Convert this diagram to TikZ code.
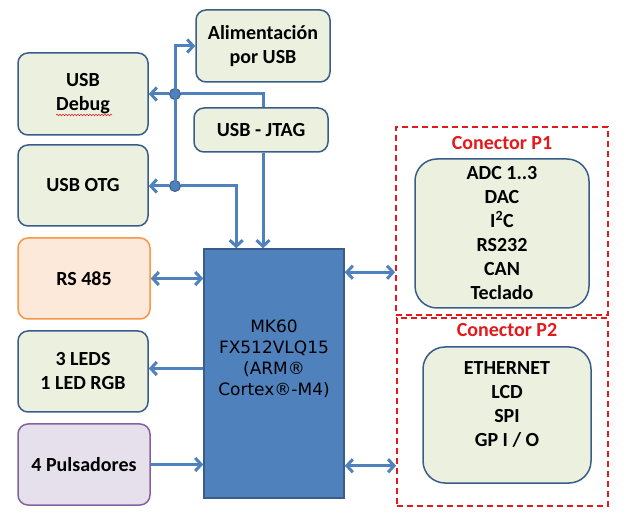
\documentclass[tikz,border=0pt]{standalone}
\usepackage{fontspec}
\setmainfont{Carlito}
\newfontfamily\dvfont{DejaVu Sans}
\usetikzlibrary{arrows.meta,calc,decorations.pathmorphing}
\definecolor{lineblue}{HTML}{4F81BD}
\definecolor{edgeblue}{HTML}{385D8A}
\definecolor{greenfill}{HTML}{EBF1DE}
\definecolor{orangefill}{HTML}{FDE9D9}
\definecolor{orangeedge}{HTML}{F79646}
\definecolor{purplefill}{HTML}{E5E0EC}
\definecolor{purpleedge}{HTML}{8064A2}
\definecolor{conred}{HTML}{E3191C}
\tikzset{
  bx/.style={draw=edgeblue, line width=1.5pt, fill=greenfill, rounded corners=10pt,
    align=center, inner sep=0pt, font=\fontsize{20}{24}\selectfont\bfseries},
  conbox/.style={bx, rounded corners=22pt},
  dashbox/.style={draw=conred, line width=1.8pt, dash pattern=on 6pt off 4pt, inner sep=0pt},
  conlabel/.style={text=conred, font=\fontsize{20}{24}\selectfont\bfseries, inner sep=0pt},
  wire/.style={draw=lineblue, line width=3pt},
  arr/.style={wire, -{Straight Barb[length=6pt,width=13pt]}},
  darr/.style={wire, {Straight Barb[length=6pt,width=13pt]}-{Straight Barb[length=6pt,width=13pt]}},
  jdot/.style={circle, fill=lineblue, draw=edgeblue, line width=1pt, minimum size=11pt, inner sep=0pt},
}
\begin{document}
\begin{tikzpicture}[x=1pt,y=-1pt]
\useasboundingbox (0,0) rectangle (632,526);
% left column
\node[bx, minimum width=130, minimum height=82] (dbg) at (83,94) {USB\\Debug};
\node[bx, minimum width=130, minimum height=81] (otg) at (83,185.5) {USB OTG};
\node[bx, minimum width=134, minimum height=72] (al) at (263,46) {Alimentación\\por USB};
\node[bx, minimum width=134, minimum height=44] (jt) at (261,130) {USB - JTAG};
\node[bx, draw=orangeedge, fill=orangefill, minimum width=132, minimum height=81] (rs) at (84,278.5) {RS 485};
\node[bx, minimum width=130, minimum height=81] (led) at (83,371.5) {3 LEDS\\1 LED RGB};
\node[bx, draw=purpleedge, fill=purplefill, minimum width=132, minimum height=81] (pul) at (84,464.5) {4 Pulsadores};
% MCU
\node[draw=edgeblue, line width=1.5pt, fill=lineblue, minimum width=140, minimum height=249, inner sep=0pt] (mk) at (274,373.5) {};
\node[align=center, font=\dvfont\fontsize{17}{21}\selectfont, inner sep=0pt] (mkt) at ([yshift=15pt]mk.center) {MK60\\FX512VLQ15\\(ARM®\\Cortex®-M4)};
% connectors
\node[dashbox, minimum width=212, minimum height=188] (p1) at (502,221) {};
\node[dashbox, minimum width=211, minimum height=188] (p2) at (502.5,412) {};
\node[conlabel] (p1l) at (502,143) {Conector P1};
\node[conlabel] (p2l) at (507,330) {Conector P2};
\node[conbox, minimum width=174, minimum height=149] (p1b) at (502,233.5) {ADC 1..3\\DAC\\I\textsuperscript{2}C\\RS232\\CAN\\Teclado};
\node[conbox, minimum width=168, minimum height=136, text depth=22pt] (p2b) at (507,415) {ETHERNET\\LCD\\SPI\\GP I / O};
% wavy spell-check underline
\draw[conred, line width=0.6pt, decorate, decoration={snake, amplitude=0.7pt, segment length=3pt}]
  ($(dbg.center)+(-27,21)$) -- ($(dbg.center)+(29,21)$);
% junction dots
\node[jdot] (d1) at (175,94) {};
\node[jdot] (d2) at (175,186) {};
% wires
\draw[arr] (d2.center) -- (d1.center) |- (al.west);
\draw[arr] (d1) -- (d1 -| dbg.east);
\draw[arr] (d2) -- (d2 -| otg.east);
\draw[wire] (d1) -| ([xshift=2pt]jt.north);
\draw[arr] ([xshift=2pt]jt.south) -- ([xshift=2pt]jt.south |- mk.north);
\draw[arr] (d2) -| ($(mk.north west)+(33,0)$);
\draw[darr] (rs.east) -- (rs.east -| mk.west);
\draw[arr] ($(mk.west)+(0,-5)$) -- ($(mk.west -| led.east)+(0,-5)$);
\draw[arr] (pul.east) -- (pul.east -| mk.west);
\draw[darr] ($(mk.north east)+(0,24)$) -- ($(mk.north east -| p1.west)+(0,24)$);
\draw[darr] ($(mk.south east)+(0,-33)$) -- ($(mk.south east -| p2.west)+(0,-33)$);
\end{tikzpicture}
\end{document}
